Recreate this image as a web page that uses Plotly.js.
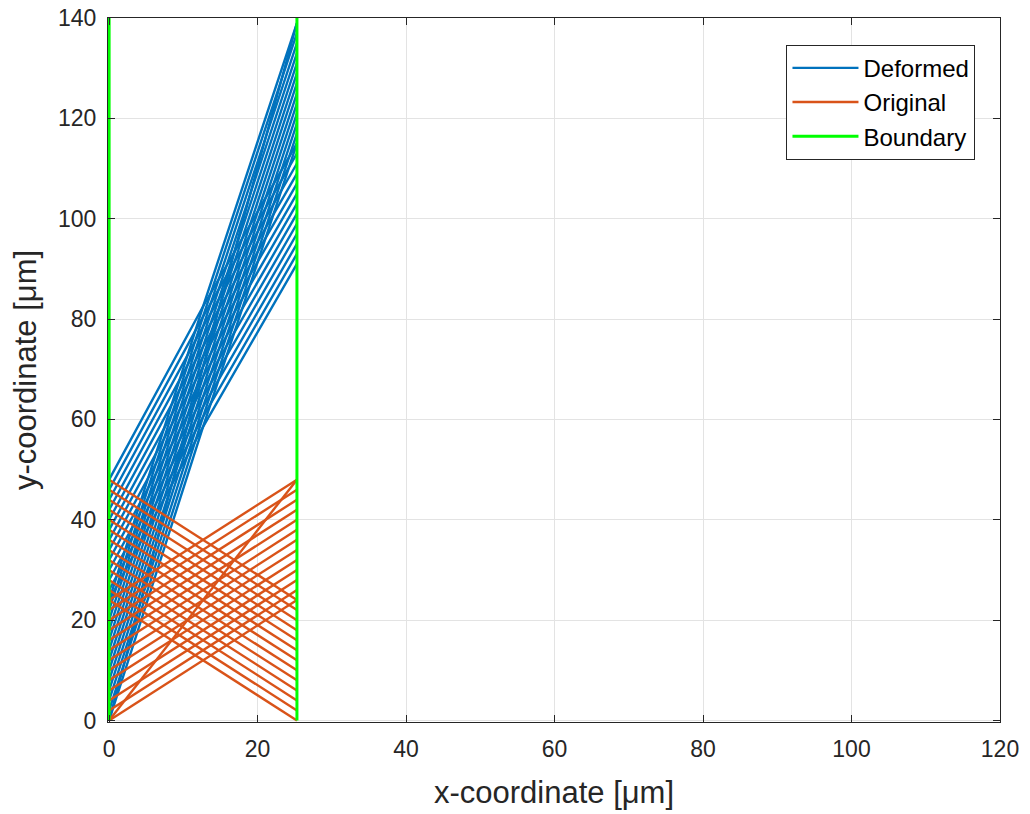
<!DOCTYPE html>
<html>
<head>
<meta charset="utf-8">
<script src="https://cdn.plot.ly/plotly-3.0.1.min.js"></script>
<style>html,body{margin:0;padding:0;background:#fff;}#chart{width:1030px;height:814px;}</style>
</head>
<body>
<div id="chart"></div>
<script>
// x stations of the strip (left edge, middle, right edge)
const stationX = [0, 12.65, 25.3];

// Original lattice: ascending lines (left y -> right y)
const origAscLeft  = [0, 2, 4, 6, 8, 10, 12, 14, 16, 18, 20, 22, 24];
const origAscRight = [24, 26, 28, 30, 32, 34, 36, 38, 40, 42, 44, 46, 48];
// Original lattice: descending lines
const origDescLeft  = [24, 26, 28, 30, 32, 34, 36, 38, 40, 42, 44, 46, 48];
const origDescRight = [0, 2, 4, 6, 8, 10, 12, 14, 16, 18, 20, 22, 24];
// Original diagonal
const origDiagY = [0, 48];

// Deformed lattice: ascending lines (left, middle, right y)
const defAscLeft  = [0, 2, 4, 6, 8, 10, 12, 14, 16, 18, 20, 22, 24];
const defAscMid   = [58.5, 60.5, 62.5, 64.5, 66.5, 68.5, 70.5, 72.5, 74.5, 76.5, 78.5, 80.5, 82.5];
const defAscRight = [115, 117, 119, 121, 123, 125, 127, 129, 131, 133, 135, 137, 139];
// Deformed lattice: descending lines
const defDescLeft  = [24, 26, 28, 30, 32, 34, 36, 38, 40, 42, 44, 46, 48];
const defDescMid   = [58.5, 60.5, 62.5, 64.5, 66.5, 68.5, 70.5, 72.5, 74.5, 76.5, 78.5, 80.5, 82.5];
const defDescRight = [91, 93, 95, 97, 99, 101, 103, 105, 107, 109, 111, 113, 115];
// Deformed diagonal
const defDiagY = [0, 70.5, 139];

// Boundary
const boundaryX = [0, 25.3];
const boundaryY = [0, 140];

const xTicks = [0, 20, 40, 60, 80, 100, 120];
const yTicks = [0, 20, 40, 60, 80, 100, 120, 140];

// Build traces
const ox = [], oy = [];
function addOrig(l, r) {
  ox.push(stationX[0], stationX[2], null);
  oy.push(l, r, null);
}
origAscLeft.forEach((v, i) => addOrig(v, origAscRight[i]));
origDescLeft.forEach((v, i) => addOrig(v, origDescRight[i]));
addOrig(origDiagY[0], origDiagY[1]);

const dx = [], dy = [];
function addDef(l, m, r) {
  dx.push(stationX[0], stationX[1], stationX[2], null);
  dy.push(l, m, r, null);
}
defAscLeft.forEach((v, i) => addDef(v, defAscMid[i], defAscRight[i]));
defDescLeft.forEach((v, i) => addDef(v, defDescMid[i], defDescRight[i]));
addDef(defDiagY[0], defDiagY[1], defDiagY[2]);

const bx = [], by = [];
boundaryX.forEach(x => { bx.push(x, x, null); by.push(boundaryY[0], boundaryY[1], null); });

const font = 'Liberation Sans, Arial, Helvetica, sans-serif';

const traces = [
  {x: dx, y: dy, mode: 'lines', name: 'Deformed', line: {color: '#0072BD', width: 2.4}, connectgaps: false},
  {x: ox, y: oy, mode: 'lines', name: 'Original', line: {color: '#D95319', width: 2.4}, connectgaps: false},
  {x: bx, y: by, mode: 'lines', name: 'Boundary', line: {color: '#00FF00', width: 3}, connectgaps: false}
];

const axisCommon = {
  showline: true, linecolor: '#262626', linewidth: 1, mirror: 'ticks',
  ticks: 'inside', ticklen: 7, tickcolor: '#262626',
  showgrid: true, gridcolor: '#e3e3e3', gridwidth: 1,
  zeroline: false,
  ticklabelstandoff: 6,
  tickfont: {family: font, size: 23, color: '#262626'}
};

const layout = {
  width: 1030, height: 814,
  margin: {l: 108, r: 30, t: 18, b: 92},
  paper_bgcolor: '#ffffff', plot_bgcolor: '#ffffff',
  font: {family: font, color: '#262626'},
  showlegend: true,
  legend: {
    x: 0.9725, y: 0.962, xanchor: 'right', yanchor: 'top',
    bgcolor: '#ffffff', bordercolor: '#262626', borderwidth: 1,
    font: {family: font, size: 24, color: '#000000'},
    itemwidth: 66,
    tracegroupgap: 0
  },
  xaxis: Object.assign({}, axisCommon, {
    range: [-0.15, 120], tickvals: xTicks, ticktext: xTicks.map(String),
    title: {text: 'x-coordinate [μm]', font: {family: font, size: 31, color: '#262626'}, standoff: 20}
  }),
  yaxis: Object.assign({}, axisCommon, {
    range: [-0.3, 140], tickvals: yTicks, ticktext: yTicks.map(String),
    title: {text: 'y-coordinate [μm]', font: {family: font, size: 31, color: '#262626'}, standoff: 12}
  })
};

Plotly.newPlot('chart', traces, layout, {displayModeBar: false, staticPlot: true});
</script>
</body>
</html>
